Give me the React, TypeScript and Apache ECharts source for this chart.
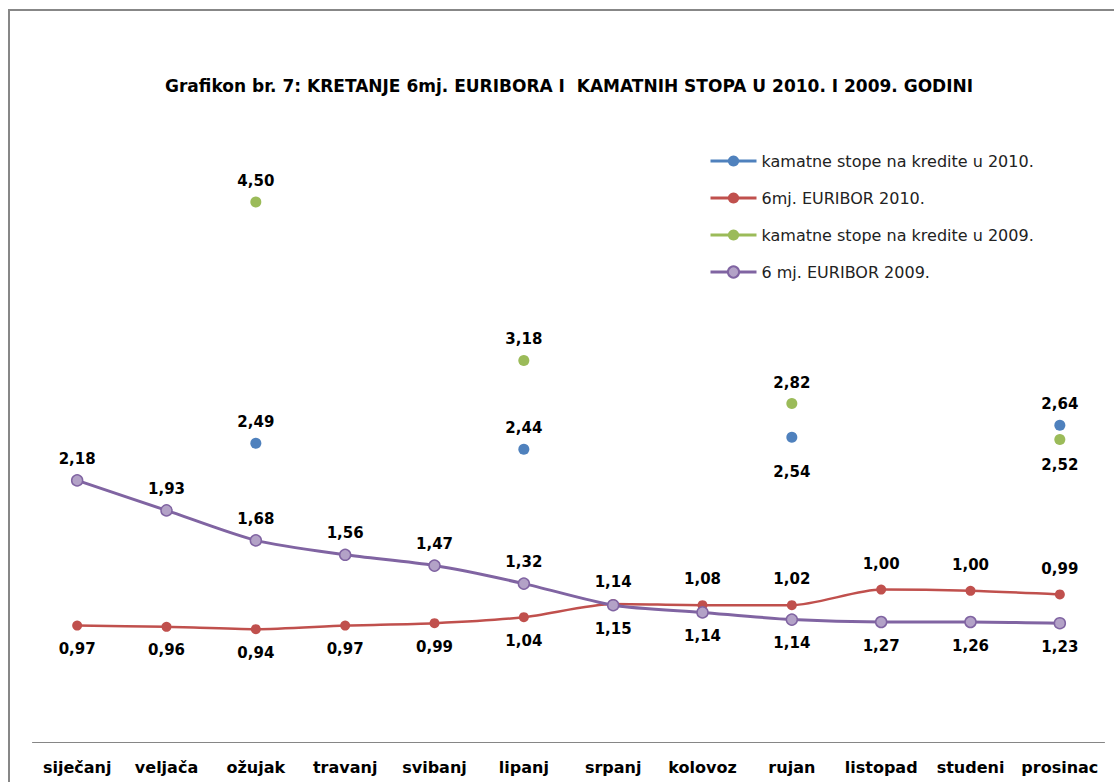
import React, { useEffect, useRef } from "react";
import * as echarts from "echarts";

const categories = ["siječanj", "veljača", "ožujak", "travanj", "svibanj", "lipanj", "srpanj", "kolovoz", "rujan", "listopad", "studeni", "prosinac"];
const loans2010 = [null, null, 2.49, null, null, 2.44, null, null, 2.54, null, null, 2.64];
const euribor2010 = [0.97, 0.96, 0.94, 0.97, 0.99, 1.04, 1.15, 1.14, 1.14, 1.27, 1.26, 1.23];
const loans2009 = [null, null, 4.5, null, null, 3.18, null, null, 2.82, null, null, 2.52];
const euribor2009 = [2.18, 1.93, 1.68, 1.56, 1.47, 1.32, 1.14, 1.08, 1.02, 1.0, 1.0, 0.99];
const seriesNames = ["kamatne stope na kredite u 2010.", "6mj. EURIBOR 2010.", "kamatne stope na kredite u 2009.", "6 mj. EURIBOR 2009."];
const titleText = "Grafikon br. 7: KRETANJE 6mj. EURIBORA I  KAMATNIH STOPA U 2010. I 2009. GODINI";
const yMin = 0;
const yMax = 5;

const W = 1114;
const H = 782;
const GRID_TOP = 142;
const GRID_BOTTOM = 40;

const fmt = (v: number) => v.toFixed(2).replace(".", ",");
const LABEL_FONT = "DejaVu Sans";

export default function App() {
  const ref = useRef<HTMLDivElement>(null);
  useEffect(() => {
    if (!ref.current) return;
    const chart = echarts.init(ref.current, undefined, { renderer: "svg" });
    const ppu = (H - GRID_TOP - GRID_BOTTOM) / (yMax - yMin);
    const baseLabel = {
      show: true,
      color: "#000",
      fontFamily: LABEL_FONT,
      fontWeight: "bold" as const,
      fontSize: 15,
      distance: 8,
      formatter: (p: any) => fmt(Array.isArray(p.value) ? p.value[1] : p.value),
    };
    const redData = euribor2010.map((v, i) => {
      const shift = Math.max(0, v - euribor2009[i]) * ppu;
      return { value: v, label: { ...baseLabel, position: "bottom", offset: [0, shift + 3] } };
    });
    const purpleData = euribor2009.map((v, i) => {
      const shift = Math.max(0, euribor2010[i] - v) * ppu;
      return { value: v, label: { ...baseLabel, position: "top", offset: [0, -shift - (shift > 5 ? 4 : 0)] } };
    });
    const blueData = loans2010.map((v, i) =>
      v == null ? null : { value: v, label: { ...baseLabel, position: i === 8 ? "bottom" : "top", offset: [0, i === 8 ? 14 : 0] } }
    );
    const greenData = loans2009.map((v, i) =>
      v == null ? null : { value: v, label: { ...baseLabel, position: i === 11 ? "bottom" : "top", offset: [0, i === 11 ? 4 : 0] } }
    );

    chart.setOption({
      animation: false,
      backgroundColor: "#fff",
      title: {
        text: titleText,
        left: 160,
        top: 72,
        textStyle: { fontFamily: LABEL_FONT, fontWeight: "bold", fontSize: 17, color: "#000" },
      },
      legend: {
        orient: "vertical",
        left: 704,
        top: 148,
        itemWidth: 46,
        itemHeight: 14,
        itemGap: 21,
        data: seriesNames,
        lineStyle: { width: 3 },
        textStyle: { fontFamily: LABEL_FONT, fontSize: 16, color: "#222" },
      },
      grid: { left: 32.5, right: 9.5, top: GRID_TOP, bottom: GRID_BOTTOM, containLabel: false },
      xAxis: {
        type: "category",
        data: categories,
        boundaryGap: true,
        axisTick: { show: false },
        axisLine: { lineStyle: { color: "#868686", width: 1 } },
        axisLabel: {
          interval: 0,
          margin: 17,
          color: "#000",
          fontFamily: LABEL_FONT,
          fontWeight: "bold",
          fontSize: 16,
        },
      },
      yAxis: { type: "value", min: yMin, max: yMax, show: false, splitLine: { show: false } },
      graphic: [
        {
          type: "rect",
          shape: { x: 9, y: 10, width: 1200, height: 900 },
          style: { fill: "none", stroke: "#878787", lineWidth: 2 },
          silent: true,
        },
      ],
      series: [
        {
          name: seriesNames[0],
          type: "line",
          data: blueData,
          connectNulls: false,
          symbol: "circle",
          symbolSize: 11,
          showSymbol: true,
          itemStyle: { color: "#4f81bd" },
          lineStyle: { color: "#4f81bd", width: 3 },
          z: 3,
        },
        {
          name: seriesNames[1],
          type: "line",
          data: redData,
          smooth: 0.25,
          symbol: "circle",
          symbolSize: 10,
          itemStyle: { color: "#c0504d" },
          lineStyle: { color: "#c0504d", width: 2.5 },
          z: 2,
        },
        {
          name: seriesNames[2],
          type: "line",
          data: greenData,
          connectNulls: false,
          symbol: "circle",
          symbolSize: 11,
          itemStyle: { color: "#9bbb59" },
          lineStyle: { color: "#9bbb59", width: 3 },
          z: 3,
        },
        {
          name: seriesNames[3],
          type: "line",
          data: purpleData,
          smooth: 0.25,
          symbol: "circle",
          symbolSize: 11,
          itemStyle: { color: "#b3a2c7", borderColor: "#8064a2", borderWidth: 1.5 },
          lineStyle: { color: "#8064a2", width: 3 },
          z: 4,
        },
      ],
    });
    return () => chart.dispose();
  }, []);
  return <div ref={ref} style={{ position: "absolute", left: 0, top: 0, width: W, height: H }} />;
}
